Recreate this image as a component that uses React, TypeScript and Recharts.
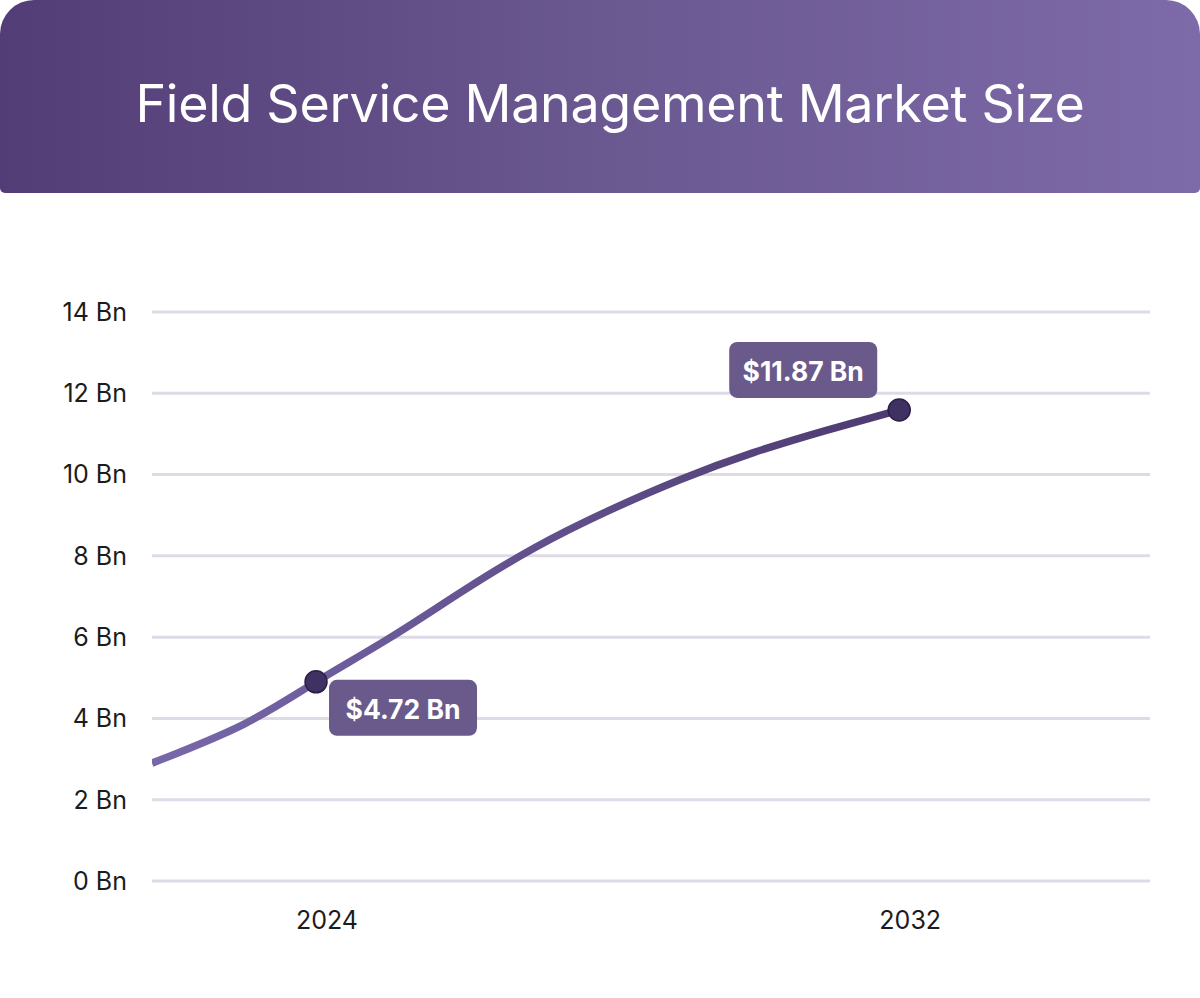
import React from 'react';
import { LineChart, Line, XAxis, YAxis, CartesianGrid, LabelList } from 'recharts';

const title = 'Field Service Management Market Size';
const years = [2021.75, 2023, 2024, 2025, 2026, 2027, 2028, 2029, 2030, 2031, 2032];
const marketSize = [2.9, 3.85, 4.9, 5.97, 7.12, 8.2, 9.1, 9.88, 10.54, 11.09, 11.59];
const markerYears = [2024, 2032];
const markerLabels = ['$4.72 Bn', '$11.87 Bn'];
const yTicks = [0, 2, 4, 6, 8, 10, 12, 14];
const xTicks = [2024, 2032];

const data = years.map((year, i) => ({ year, value: marketSize[i] }));

const FONT = 'Inter, "Noto Sans", sans-serif';

const renderDot = (props: any) => {
  const { cx, cy, payload, index } = props;
  if (!markerYears.includes(payload.year)) return <g key={`d-${index}`} />;
  return <circle key={`d-${index}`} cx={cx} cy={cy} r={11} fill="#403163" stroke="#2a1f45" strokeWidth={1.5} />;
};

const renderCallout = (props: any) => {
  const { x, y, index } = props;
  const year = data[index]?.year;
  const m = markerYears.indexOf(year);
  if (m < 0) return null;
  const w = 148;
  const h = 56;
  const bx = m === 0 ? x + 13 : x - 170;
  const by = m === 0 ? y - 2 : y - 68;
  return (
    <g key={`c-${index}`}>
      <rect x={bx} y={by} width={w} height={h} rx={8} ry={8} fill="#6a5a8b" />
      <text x={bx + w / 2} y={by + h / 2 + 1} textAnchor="middle" dominantBaseline="central" fill="#ffffff" fontFamily={FONT} fontWeight={700} fontSize={26.5}>
        {markerLabels[m]}
      </text>
    </g>
  );
};

export default function App() {
  return (
    <div style={{ position: 'absolute', left: 0, top: 0, width: 1200, height: 998, background: '#ffffff', overflow: 'hidden' }}>
      <div
        style={{
          position: 'absolute', left: 0, top: 0, width: 1200, height: 193,
          background: 'linear-gradient(90deg, #533d76 0%, #6a5891 50%, #7d6aa8 100%)',
          borderRadius: '34px 34px 5px 5px',
          display: 'flex', alignItems: 'center', justifyContent: 'center',
        }}
      >
        <div style={{ color: '#ffffff', fontFamily: FONT, fontSize: 52, fontWeight: 400, marginLeft: 20, marginTop: 14, letterSpacing: -0.3 }}>
          {title}
        </div>
      </div>
      <div style={{ position: 'absolute', left: 0, top: 193 }}>
        <LineChart width={1200} height={805} data={data} margin={{ top: 119, right: 50, bottom: 0, left: 0 }}>
          <defs>
            <linearGradient id="lineGrad" x1="0" y1="0" x2="1" y2="0">
              <stop offset="0%" stopColor="#7868aa" />
              <stop offset="100%" stopColor="#4d3a70" />
            </linearGradient>
          </defs>
          <CartesianGrid vertical={false} stroke="#dedbe6" strokeWidth={3} />
          <XAxis
            dataKey="year"
            type="number"
            domain={[2021.75, 2035.44]}
            ticks={xTicks}
            allowDataOverflow
            axisLine={false}
            tickLine={false}
            height={117}
            tickMargin={24}
            tick={{ fill: '#1c1c1c', fontSize: 25, fontFamily: FONT, dx: 11 }}
          />
          <YAxis
            type="number"
            domain={[0, 14]}
            ticks={yTicks}
            width={152}
            axisLine={false}
            tickLine={false}
            tickMargin={19}
            tickFormatter={(v: number) => `${v} Bn`}
            tick={{ fill: '#1c1c1c', fontSize: 25, fontFamily: FONT }}
          />
          <Line
            type="natural"
            dataKey="value"
            stroke="url(#lineGrad)"
            strokeWidth={7.5}
            dot={renderDot}
            activeDot={false}
            isAnimationActive={false}
          >
            <LabelList dataKey="value" content={renderCallout} />
          </Line>
        </LineChart>
      </div>
    </div>
  );
}
